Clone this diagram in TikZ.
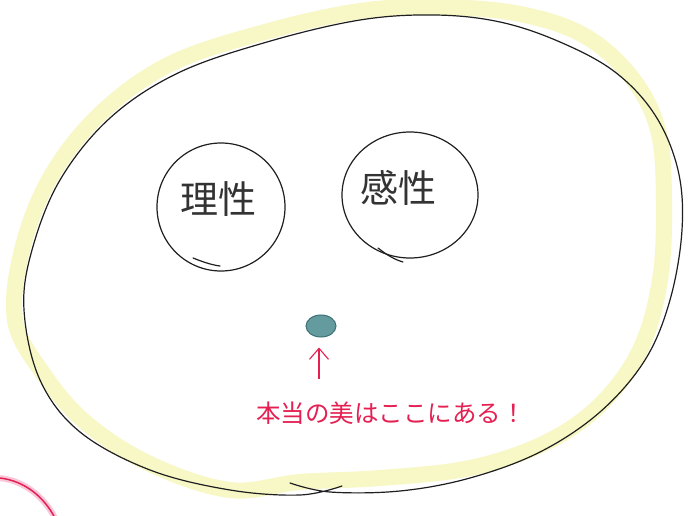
\documentclass[tikz,border=0pt]{standalone}
\usepackage{fontspec}
\newfontfamily\jp{Noto Sans CJK JP}
\usetikzlibrary{arrows.meta,shapes.geometric}
\definecolor{hl}{RGB}{248,247,198}
\definecolor{redpen}{RGB}{228,32,82}
\definecolor{tealfill}{RGB}{100,155,158}
\definecolor{tealedge}{RGB}{60,112,118}
\definecolor{pinkhalo}{RGB}{250,198,218}
\begin{document}
\begin{tikzpicture}[x=1pt,y=-1pt,
  pen/.style={line width=1.2pt, draw=black!88, line cap=round, line join=round},
  marker/.style={line width=16pt, draw=hl, line cap=round, line join=round},
  word/.style={font=\jp\fontsize{38}{40}\selectfont, text=black!80},
  note/.style={font=\jp\fontsize{24.5}{26}\selectfont, text=redpen, inner sep=0pt}]
\fill[white] (0,0) rectangle (689,516);
\useasboundingbox (0,0) rectangle (689,516);

% yellow highlighter band
\draw[marker] plot[smooth cycle, tension=0.6] coordinates {
  (15,320) (22,250) (50,178) (100,114) (170,64) (265,32) (360,11) (440,7)
  (520,14) (585,36) (632,78) (658,130) (664,200) (660,280) (640,350)
  (600,405) (545,443) (470,468) (380,478) (300,482) (230,490) (150,464)
  (85,422) (42,372)};

% black outline (hand drawn, ends crossing at the bottom)
\draw[pen] plot[smooth, tension=0.6] coordinates {
  (290,483) (330,492) (400,491) (470,478) (540,452) (600,412) (645,360)
  (670,300) (682,230) (678,170) (655,115) (615,72) (560,42) (500,22)
  (435,15) (360,20) (267,42) (178,73) (110,118) (60,180) (32,250)
  (24,310) (40,380) (80,432) (150,470) (230,490) (300,495) (342,486)};

% small circles
\draw[pen] (221,207) ellipse [x radius=64, y radius=64];
\draw[pen] (193,258) .. controls (203,262) and (212,265) .. (220,266);
\draw[pen] (410,195) ellipse [x radius=68, y radius=63];
\draw[pen] (378,248) .. controls (388,256) and (396,260) .. (403,262);

\node[word] (reason) at (218,199) {理性};
\node[word] (kansei) at (398,188) {感性};

% teal dot
\node[ellipse, fill=tealfill, draw=tealedge, line width=1pt,
      minimum width=30pt, minimum height=22pt, inner sep=0pt] (dot) at (321,326) {};

% red note and arrow
\node[note] (label) at (391,413) {本当の美はここにある！};
\coordinate (tail) at (319,379);
\draw[redpen, line width=1.1pt, shorten >=10pt, -{Straight Barb[length=11pt,width=19pt]}]
  (tail) -- (tail |- dot.south);

% pink arc at bottom-left
\draw[pinkhalo, line width=6pt] (0,478) .. controls (25,481) and (44,497) .. (55,518);
\draw[redpen, line width=1.5pt] (0,478) .. controls (25,481) and (44,497) .. (55,518);
\end{tikzpicture}
\end{document}
